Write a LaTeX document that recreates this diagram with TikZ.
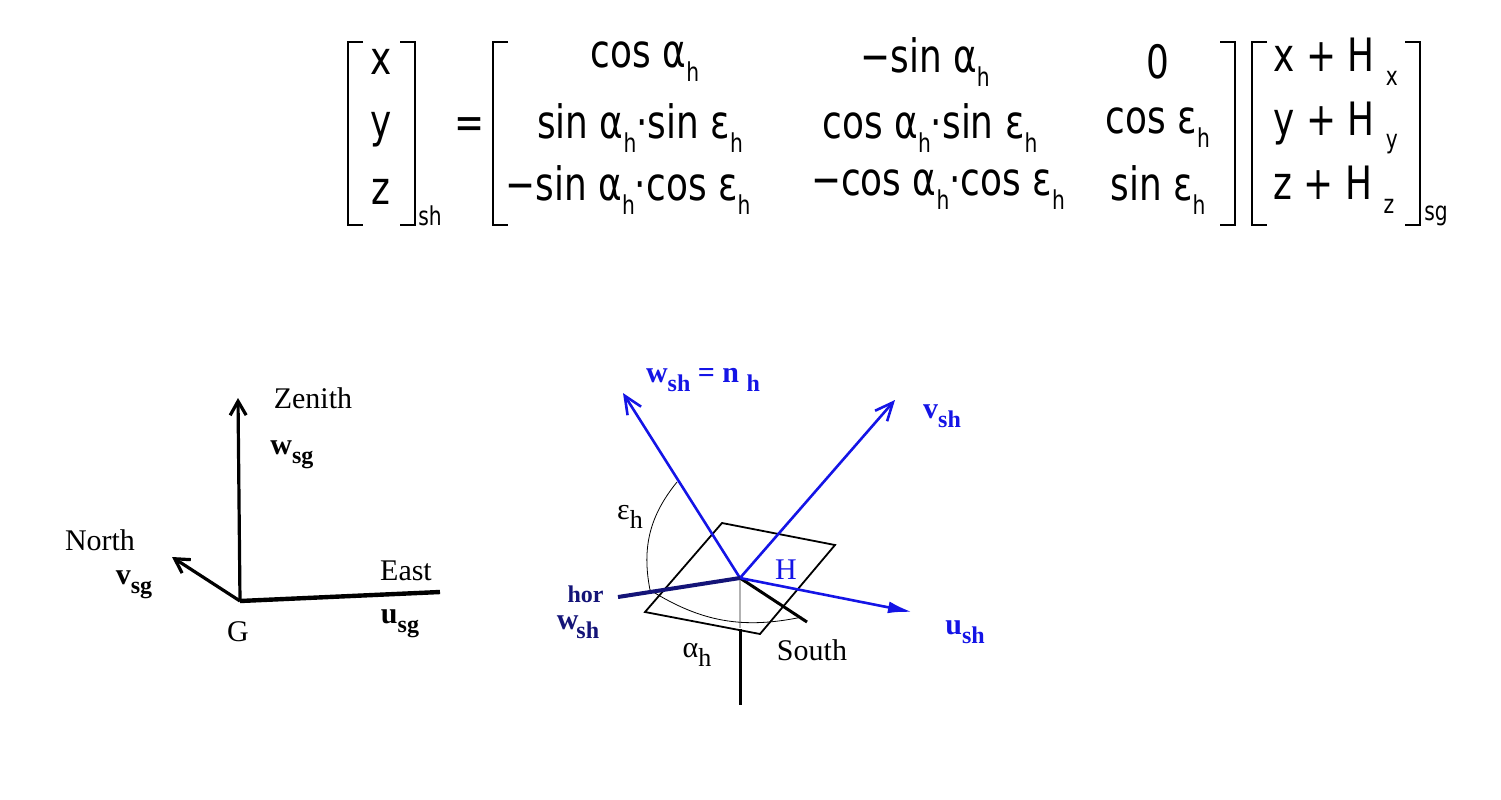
\documentclass[tikz,border=0pt]{standalone}
\usepackage{fontspec}
\setmainfont{Liberation Serif}
\newfontfamily\eqf[FakeStretch=0.78]{DejaVu Sans}
\usetikzlibrary{arrows.meta}
\definecolor{vb}{RGB}{20,20,230}
\definecolor{db}{RGB}{20,20,120}
\newcommand{\lo}[1]{\raisebox{-0.3em}{\fontsize{13}{13}\selectfont #1}}
\newcommand{\bs}[1]{\raisebox{-0.3em}{\fontsize{12}{12}\selectfont\bfseries #1}}
\begin{document}
\begin{tikzpicture}[x=0.5pt,y=-0.5pt,
  eq/.style={font=\eqf\fontsize{23}{24}\selectfont,inner sep=0pt},
  sub/.style={font=\eqf\fontsize{13}{14}\selectfont,inner sep=0pt},
  br/.style={line width=0.8pt},
  lab/.style={font=\fontsize{15}{16}\selectfont,inner sep=0pt},
  blab/.style={font=\bfseries\fontsize{15}{16}\selectfont,inner sep=0pt,text=vb},
  ax/.style={line width=1.6pt,-{Straight Barb[length=7pt,width=8pt]}},
  bax/.style={line width=1.3pt,draw=vb,-{Straight Barb[length=9pt,width=8pt]}}]
\useasboundingbox (0,0) rectangle (1501,799);
% brackets
\draw[br] (363,42)--(348,42)--(348,225)--(363,225);
\draw[br] (400,42)--(415,42)--(415,225)--(400,225);
\draw[br] (508,42)--(493,42)--(493,225)--(508,225);
\draw[br] (1220,42)--(1235,42)--(1235,225)--(1220,225);
\draw[br] (1267,42)--(1252,42)--(1252,225)--(1267,225);
\draw[br] (1405,42)--(1420,42)--(1420,225)--(1405,225);
\node[eq] (vx) at (381,62) {x};
\node[eq] (vy) at (381,130) {y};
\node[eq] (vz) at (381,192) {z};
\node[sub] (ssh) at (430,216) {sh};
\node[eq] (eqs) at (470,128) {=};
\node[eq] (m11) at (645,62) {cos α\lo{h}};
\node[eq] (m12) at (925,62) {−sin α\lo{h}};
\node[eq] (m13) at (1158,62) {0};
\node[eq] (m21) at (640,128) {sin α\lo{h}·sin ε\lo{h}};
\node[eq] (m22) at (930,128) {cos α\lo{h}·sin ε\lo{h}};
\node[eq] (m23) at (1158,128) {cos ε\lo{h}};
\node[eq] (m31) at (628,190) {−sin α\lo{h}·cos ε\lo{h}};
\node[eq] (m32) at (938,190) {−cos α\lo{h}·cos ε\lo{h}};
\node[eq] (m33) at (1158,190) {sin ε\lo{h}};
\node[eq,anchor=west] (r1) at (1273,62) {x + H \lo{x}};
\node[eq,anchor=west] (r2) at (1273,128) {y + H \lo{y}};
\node[eq,anchor=west] (r3) at (1273,190) {z + H \lo{z}};
\node[sub] (ssg) at (1436,216) {sg};
% left diagram
\coordinate (G) at (240,601);
\coordinate (zt) at (238,398);
\coordinate (nt) at (172,557);
\coordinate (et) at (440,592);
\draw[ax] (G)--(zt);
\draw[ax] (G)--(nt);
\draw[line width=2.2pt] (G)--(et);
\node[lab] (zen) at (313,398) {Zenith};
\node[lab] (wsg) at (292,455) {\textbf{w}\bs{sg}};
\node[lab] (nor) at (100,540) {North};
\node[lab] (vsg) at (134,585) {\textbf{v}\bs{sg}};
\node[lab] (eas) at (406,571) {East};
\node[lab] (usg) at (400,624) {\textbf{u}\bs{sg}};
\node[lab] (gl) at (238,632) {G};
% right diagram
\coordinate (H) at (740,578);
\draw[line width=0.9pt] (722,523)--(835,545)--(760,634)--(645,612)--cycle;
\draw[gray!60,line width=1.3pt] (H)--(740,628);
\draw[line width=1.5pt] (740,629)--(740,705);
\draw[line width=1.5pt] (H)--(807,622);
\draw[line width=0.4pt] (677,482) to[bend right=25] (650,590);
\draw[line width=0.4pt] (650,590) to[bend right=22] (802,617);
\draw[bax] (H)--(623,393);
\draw[bax] (H)--(895,400);
\draw[bax,-{Latex[length=12pt,width=6pt]}] (H)--(912,612);
\draw[line width=2pt,draw=db] (H)--(618,597);
\node[blab] (wn) at (703,380) {w\bs{sh} = n \bs{h}};
\node[blab] (vsh) at (942,416) {v\bs{sh}};
\node[blab] (ush) at (965,632) {u\bs{sh}};
\node[blab,text=db,anchor=east] (whor) at (604,612) {w\hspace{-1pt}\bs{sh}\hspace{-1.05em}\raisebox{0.9em}{\fontsize{12}{12}\selectfont\bfseries hor}};
\node[lab,text=vb] (Hl) at (786,570) {H};
\node[lab] (al) at (697,655) {α\lo{h}};
\node[lab] (so) at (812,650) {South};
\node[lab] (ep) at (630,517) {ε\lo{h}};
\end{tikzpicture}
\end{document}
